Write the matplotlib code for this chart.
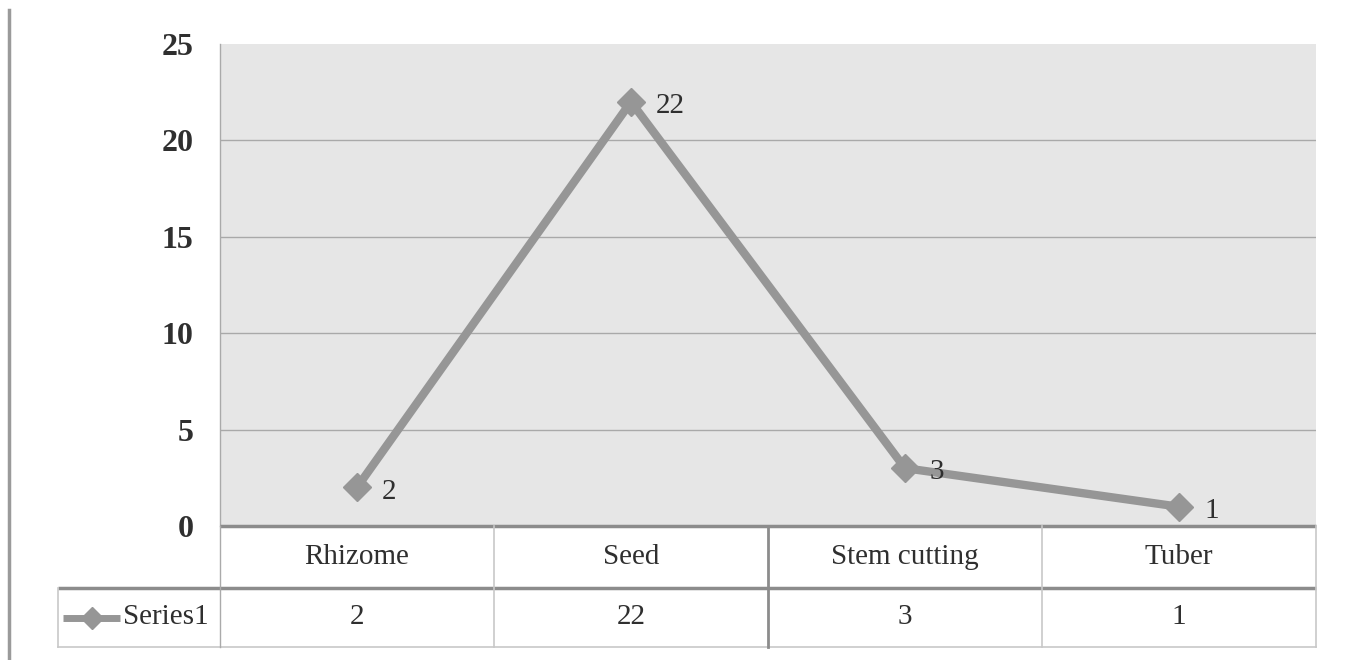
import matplotlib.pyplot as plt
import numpy as np
from matplotlib.lines import Line2D

# chart data
categories = ['Rhizome', 'Seed', 'Stem cutting', 'Tuber']
series_name = 'Series1'
series_values = [2, 22, 3, 1]
y_ticks = [0, 5, 10, 15, 20, 25]

plt.rcParams['font.family'] = ['Liberation Serif', 'DejaVu Serif']

W, H = 1346, 660
fig = plt.figure(figsize=(W / 100, H / 100), dpi=100)

line_color = '#969696'
text_color = '#2f2f2f'

# main plot area (pixel box 220..1316 x 44..526)
ax = fig.add_axes([220 / W, 1 - 526 / H, (1316 - 220) / W, (526 - 44) / H])
ax.set_facecolor('#e6e6e6')
x = np.arange(len(categories))
ax.set_xlim(-0.5, len(categories) - 0.5)
ax.set_ylim(0, 25)
ax.set_yticks(y_ticks)
ax.set_yticklabels([str(t) for t in y_ticks], fontsize=23, fontweight='bold', color=text_color)
ax.tick_params(axis='y', length=0, pad=19)
ax.set_xticks([])
for t in y_ticks[1:-1]:
    ax.axhline(t, color='#a9a9a9', lw=1.0, zorder=1)
for side in ['top', 'right', 'bottom']:
    ax.spines[side].set_visible(False)
ax.spines['left'].set_color('#aaaaaa')
ax.spines['left'].set_linewidth(1.0)

ax.plot(x, series_values, color=line_color, lw=6, marker='D', markersize=14,
        markerfacecolor=line_color, markeredgecolor=line_color, zorder=3,
        solid_joinstyle='miter')
for xi, v in zip(x, series_values):
    ax.annotate(str(v), (xi, v), xytext=(18, -3), textcoords='offset points',
                ha='left', va='center', fontsize=21, color=text_color, zorder=4)

# data table below (pixel box 58..1316 x 526..647)
tab = fig.add_axes([58 / W, 1 - 647 / H, (1316 - 58) / W, (647 - 526) / H])
label_w = 162 / 274
tab.set_xlim(-0.5 - label_w, len(categories) - 0.5)
tab.set_ylim(0, 2)
tab.axis('off')
row_div = 59 / 121 * 2
light = '#c8c8c8'
dark = '#8c8c8c'

# horizontal lines
tab.plot([-0.5, 3.5], [2, 2], color=dark, lw=2.5, clip_on=False, solid_capstyle='butt')
tab.plot([-0.5 - label_w, 3.5], [row_div, row_div], color=dark, lw=2.5, clip_on=False,
         solid_capstyle='butt')
tab.plot([-0.5 - label_w, 3.5], [0, 0], color=light, lw=1.2, clip_on=False)
# vertical lines
tab.plot([-0.5 - label_w] * 2, [0, row_div], color=light, lw=1.2, clip_on=False)
tab.plot([-0.5, -0.5], [0, 2], color='#aaaaaa', lw=1.0, clip_on=False)
tab.plot([3.5, 3.5], [0, 2], color=light, lw=1.2, clip_on=False)
for i in range(1, len(categories)):
    c = dark if i == 2 else light
    w = 2.0 if i == 2 else 1.2
    tab.plot([i - 0.5, i - 0.5], [0, 2], color=c, lw=w, clip_on=False)

mid_top = (row_div + 2) / 2
mid_bot = row_div / 2
for i, (cat, v) in enumerate(zip(categories, series_values)):
    tab.text(i, mid_top, cat, ha='center', va='center', fontsize=21, color=text_color)
    tab.text(i, mid_bot, str(v), ha='center', va='center', fontsize=21, color=text_color)

# legend key in the series label cell
key_x0 = -0.5 - label_w + 5 / 274
key_x1 = key_x0 + 57 / 274
tab.plot([key_x0, key_x1], [mid_bot, mid_bot], color=line_color, lw=5,
         solid_capstyle='butt')
tab.plot([(key_x0 + key_x1) / 2], [mid_bot], marker='D', markersize=11, color=line_color)
tab.text(key_x1 + 3 / 274, mid_bot, series_name, ha='left', va='center', fontsize=21,
         color=text_color)

# left border line of the page
fig.add_artist(Line2D([9 / W, 9 / W], [0, 1 - 10 / H], transform=fig.transFigure,
                      color='#9a9a9a', lw=2.5))

fig.savefig('out.png', dpi=100)
